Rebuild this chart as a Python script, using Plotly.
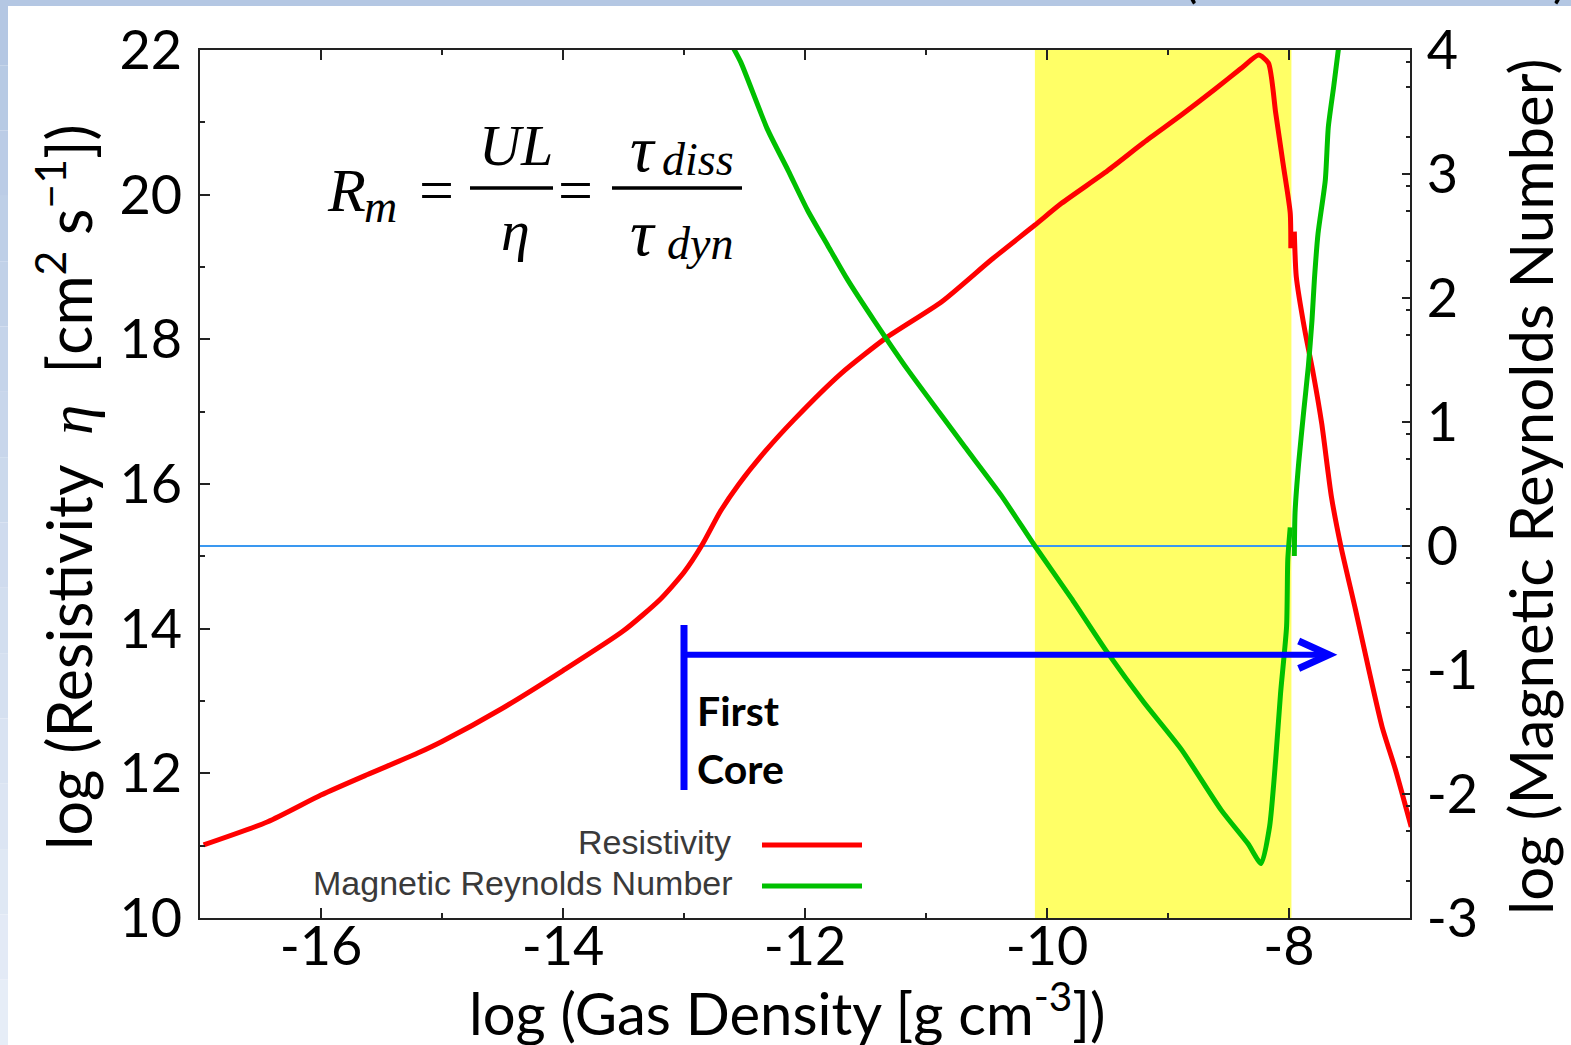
import math
import plotly.graph_objects as go

# ---- data: log10 gas density [g cm^-3] ----
# resistivity log10(eta) [cm^2 s^-1], two segments (left axis)
dens_res_lo = [-16.97, -16.44, -16.0, -15.62, -15.2, -15.0, -14.5, -14.0, -13.5, -13.2,
               -13.0, -12.85, -12.7, -12.55, -12.33, -12.09, -11.70, -11.33, -10.87, -10.46,
               -10.10, -9.88, -9.5, -9.2, -8.89, -8.61, -8.40, -8.25, -8.17, -8.11,
               -8.05, -7.99, -7.985]
res_lo = [11.01, 11.33, 11.70, 11.98, 12.28, 12.44, 12.90, 13.42, 13.97, 14.40,
          14.78, 15.16, 15.62, 15.99, 16.45, 16.89, 17.53, 18.02, 18.52, 19.10,
          19.58, 19.88, 20.33, 20.72, 21.10, 21.46, 21.74, 21.93, 21.82, 21.13,
          20.44, 19.75, 19.26]
dens_res_hi = [-7.956, -7.94, -7.87, -7.80, -7.73, -7.65, -7.57, -7.45, -7.34, -7.23, -7.12, -6.99]
res_hi = [19.49, 18.87, 18.13, 17.53, 16.84, 15.83, 15.13, 14.26, 13.43, 12.64, 12.05, 11.26]

# magnetic Reynolds number log10(Rm), two segments (right axis)
dens_rm_lo = [-12.60, -12.53, -12.31, -12.14, -11.98, -11.81, -11.65, -11.43, -11.15, -10.87,
              -10.68, -10.38, -10.10, -9.8, -9.5, -9.2, -8.89, -8.56, -8.34, -8.23,
              -8.16, -8.11, -8.07, -8.02, -8.01, -7.99]
rm_lo = [4.03, 3.90, 3.36, 3.03, 2.71, 2.42, 2.15, 1.82, 1.42, 1.05,
         0.80, 0.41, 0.0, -0.42, -0.86, -1.26, -1.64, -2.13, -2.40, -2.56,
         -2.26, -1.72, -1.19, -0.65, -0.11, 0.15]
dens_rm_hi = [-7.956, -7.95, -7.92, -7.88, -7.84, -7.81, -7.79, -7.76, -7.70, -7.675, -7.63, -7.59]
rm_hi = [-0.08, 0.27, 0.67, 1.07, 1.45, 1.82, 2.15, 2.52, 2.95, 3.38, 3.71, 4.02]

# ---- axes ----
x_ticks = [-16, -14, -12, -10, -8]
x_tick_text = ["-16", "-14", "-12", "-10", "-8"]
res_ticks = [10, 12, 14, 16, 18, 20, 22]
rm_ticks = [-3, -2, -1, 0, 1, 2, 3, 4]
rm_tick_text = ["-3", "-2", "-1", "0", "1", "2", "3", "4"]

# ---- annotated regions ----
first_core_band = [-10.1, -7.98]     # shaded density range
first_core_start = -13.0             # onset of first core
arrow_end = -7.67
arrow_level = 13.64
bar_span = [11.77, 14.05]
rm_unity = 0.0

W, H = 1571, 1045
ML, MR, MT, MB = 200, 161, 50, 127
PW, PH = W - ML - MR, H - MT - MB


def fx(px):
    return (px - ML) / PW


def fy(py):
    return (H - MB - py) / PH


RED = "#ff0000"
GREEN = "#00c000"
AX = "#222222"
TICKFONT = dict(family="Lato", size=54, color="black")
MATH = "Liberation Serif"

fig = go.Figure()
for xs, ys in [(dens_res_lo, res_lo), (dens_res_hi, res_hi)]:
    fig.add_trace(go.Scatter(x=xs, y=ys, mode="lines", yaxis="y",
                             line=dict(color=RED, width=5, shape="spline", smoothing=0.6),
                             showlegend=False, hoverinfo="skip"))
for xs, ys in [(dens_rm_lo, rm_lo), (dens_rm_hi, rm_hi)]:
    fig.add_trace(go.Scatter(x=xs, y=ys, mode="lines", yaxis="y2",
                             line=dict(color=GREEN, width=5, shape="spline", smoothing=0.6),
                             showlegend=False, hoverinfo="skip"))

shapes = []
# shaded first-core band and Rm = 1 level
shapes.append(dict(type="rect", xref="x", yref="paper", x0=first_core_band[0], x1=first_core_band[1],
                   y0=0, y1=1, fillcolor="#ffff66", line=dict(width=0), layer="below"))
shapes.append(dict(type="line", xref="paper", yref="y2", x0=0, x1=1, y0=rm_unity, y1=rm_unity,
                   line=dict(color="#3a98f0", width=2), layer="below"))

# first-core marker and arrow
BLUE = "#0000ff"
shapes.append(dict(type="line", xref="x", yref="y", x0=first_core_start, x1=first_core_start,
                   y0=bar_span[0], y1=bar_span[1], line=dict(color=BLUE, width=7)))
shapes.append(dict(type="line", xref="x", yref="y", x0=first_core_start, x1=arrow_end,
                   y0=arrow_level, y1=arrow_level, line=dict(color=BLUE, width=6)))
head_dx, head_dy = 0.25, 0.19
shapes.append(dict(type="path", xref="x", yref="y",
                   path=(f"M {arrow_end - head_dx},{arrow_level + head_dy} "
                         f"L {arrow_end},{arrow_level} "
                         f"L {arrow_end - head_dx},{arrow_level - head_dy}"),
                   line=dict(color=BLUE, width=7)))

# legend samples
shapes.append(dict(type="line", xref="paper", yref="paper", x0=fx(762), x1=fx(862),
                   y0=fy(845), y1=fy(845), line=dict(color=RED, width=5)))
shapes.append(dict(type="line", xref="paper", yref="paper", x0=fx(762), x1=fx(862),
                   y0=fy(886), y1=fy(886), line=dict(color=GREEN, width=5)))

# fraction bars of the equation
shapes.append(dict(type="line", xref="paper", yref="paper", x0=fx(470), x1=fx(553),
                   y0=fy(188), y1=fy(188), line=dict(color="black", width=3.5)))
shapes.append(dict(type="line", xref="paper", yref="paper", x0=fx(612), x1=fx(742),
                   y0=fy(188), y1=fy(188), line=dict(color="black", width=3.5)))

# slide frame: top strip and shaded left strip
shapes.append(dict(type="rect", xref="paper", yref="paper", x0=fx(0), x1=fx(W),
                   y0=fy(6), y1=fy(0), fillcolor="#b4c7e3", line=dict(width=0), layer="above"))
n_strip = 16
c0, c1 = (180, 199, 227), (230, 237, 247)
for i in range(n_strip):
    t = i / (n_strip - 1)
    col = tuple(round(a + (b - a) * t) for a, b in zip(c0, c1))
    shapes.append(dict(type="rect", xref="paper", yref="paper", x0=fx(0), x1=fx(8),
                       y0=fy(H * (i + 1) / n_strip), y1=fy(H * i / n_strip),
                       fillcolor=f"rgb{col}", line=dict(width=0), layer="above"))

ann = []


def note(text, px, py, size, family="Lato", xanchor="center", yanchor="middle",
         angle=0, color="black"):
    ann.append(dict(text=text, x=fx(px), y=fy(py), xref="paper", yref="paper",
                    xanchor=xanchor, yanchor=yanchor, textangle=angle, showarrow=False,
                    font=dict(family=family, size=size, color=color)))


# axis titles
note("log (Gas Density [g cm<sup>-3</sup>])", 787, 1009, 58)
note("log (Resistivity  <span style=\"font-family:'Liberation Serif'\"><i>η</i></span>  "
     "[cm<sup>2</sup> s<sup>−1</sup>])", 64, 487, 61, angle=-90)
note("log (Magnetic Reynolds Number)", 1530, 487, 60, angle=-90)

# legend labels
note("Resistivity", 733, 842, 34, family="Liberation Sans", xanchor="right", color="#3a3a3a")
note("Magnetic Reynolds Number", 735, 883, 34, family="Liberation Sans", xanchor="right",
     color="#3a3a3a")

# first core label
note("<b>First</b>", 695, 710, 41, xanchor="left")
note("<b>Core</b>", 695, 768, 41, xanchor="left")

# equation
note("<i>R</i>", 346, 190, 62, family=MATH)
note("<i>m</i>", 380, 206, 46, family=MATH)
note("=", 436, 190, 62, family=MATH)
note("<i>UL</i>", 516, 146, 58, family=MATH)
note("<i>η</i>", 515, 230, 58, family=MATH)
note("=", 575, 190, 62, family=MATH)
note("<i>τ</i>", 643, 148, 66, family=MATH)
note("<i>diss</i>", 698, 160, 46, family=MATH)
note("<i>τ</i>", 643, 232, 66, family=MATH)
note("<i>dyn</i>", 700, 244, 46, family=MATH)

# clipped heading brackets above the frame
note("(", 1190, 10, 50, yanchor="bottom")
note(")", 1559, 10, 50, yanchor="bottom")

rm_minor = [n + math.log10(m) for n in range(-3, 4) for m in (2, 5, 8)]

fig.update_layout(
    width=W, height=H,
    margin=dict(l=ML, r=MR, t=MT, b=MB),
    paper_bgcolor="white", plot_bgcolor="white",
    showlegend=False,
    shapes=shapes, annotations=ann,
    xaxis=dict(range=[-17, -7], tickmode="array", tickvals=x_ticks, ticktext=x_tick_text,
               ticks="inside", ticklen=10, tickwidth=2, tickcolor=AX,
               showline=True, linecolor=AX, linewidth=2, mirror="ticks",
               showgrid=False, zeroline=False, tickfont=TICKFONT, ticklabelstandoff=-20,
               minor=dict(tickmode="array", tickvals=list(range(-17, -6)), ticks="inside",
                          ticklen=5, tickwidth=2, tickcolor=AX, showgrid=False)),
    yaxis=dict(range=[10, 22], tickmode="array", tickvals=res_ticks,
               ticks="inside", ticklen=10, tickwidth=2, tickcolor=AX,
               showline=True, linecolor=AX, linewidth=2, mirror=False,
               showgrid=False, zeroline=False, tickfont=TICKFONT, ticklabelstandoff=5,
               minor=dict(tickmode="array", tickvals=list(range(11, 22)), ticks="inside",
                          ticklen=5, tickwidth=2, tickcolor=AX, showgrid=False)),
    yaxis2=dict(range=[-3, 4], overlaying="y", side="right", tickmode="array",
                tickvals=rm_ticks, ticktext=rm_tick_text,
                ticks="inside", ticklen=8, tickwidth=2, tickcolor=AX,
                showline=True, linecolor=AX, linewidth=2,
                showgrid=False, zeroline=False, tickfont=TICKFONT, ticklabelstandoff=4,
                minor=dict(tickmode="array", tickvals=rm_minor, ticks="inside",
                           ticklen=4, tickwidth=2, tickcolor=AX, showgrid=False)),
)

fig.write_html("out.html")
